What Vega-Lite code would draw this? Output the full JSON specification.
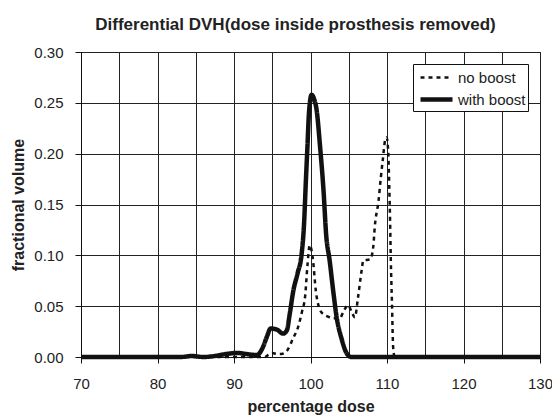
{
  "$schema": "https://vega.github.io/schema/vega-lite/v6.json",
  "width": 459,
  "height": 305,
  "autosize": {"type": "none"},
  "padding": {"left": 81, "top": 52, "right": 12, "bottom": 60},
  "background": "white",
  "config": {
    "font": "Liberation Sans",
    "view": {"stroke": "#111", "strokeWidth": 1},
    "axis": {
      "domainColor": "#111",
      "tickColor": "#111",
      "gridColor": "#222",
      "gridWidth": 1,
      "labelColor": "#222",
      "labelFont": "Liberation Sans",
      "labelFontSize": 15,
      "titleFont": "Liberation Sans",
      "titleFontSize": 16,
      "titleFontWeight": "bold",
      "titleColor": "#222",
      "tickSize": 6
    }
  },
  "title": {
    "text": "Differential DVH(dose inside prosthesis removed)",
    "fontSize": 17,
    "fontWeight": "bold",
    "font": "Liberation Sans",
    "color": "#222",
    "dx": -15,
    "dy": 20,
    "offset": 14,
    "baseline": "bottom"
  },
  "data": {
    "values": [
      {"series": "no boost", "dose": 70, "volume": 0},
      {"series": "no boost", "dose": 80, "volume": 0},
      {"series": "no boost", "dose": 90, "volume": 0},
      {"series": "no boost", "dose": 94, "volume": 0},
      {"series": "no boost", "dose": 94.5, "volume": 0.002},
      {"series": "no boost", "dose": 95, "volume": 0.004},
      {"series": "no boost", "dose": 95.6, "volume": 0.003},
      {"series": "no boost", "dose": 96.2, "volume": 0.003},
      {"series": "no boost", "dose": 97, "volume": 0.007},
      {"series": "no boost", "dose": 97.7, "volume": 0.018},
      {"series": "no boost", "dose": 98.4, "volume": 0.03},
      {"series": "no boost", "dose": 98.9, "volume": 0.045},
      {"series": "no boost", "dose": 99.3, "volume": 0.06},
      {"series": "no boost", "dose": 99.6, "volume": 0.09},
      {"series": "no boost", "dose": 99.9, "volume": 0.11},
      {"series": "no boost", "dose": 100.3, "volume": 0.097},
      {"series": "no boost", "dose": 100.7, "volume": 0.065},
      {"series": "no boost", "dose": 101.2, "volume": 0.047},
      {"series": "no boost", "dose": 101.7, "volume": 0.042},
      {"series": "no boost", "dose": 102.2, "volume": 0.04},
      {"series": "no boost", "dose": 103, "volume": 0.038},
      {"series": "no boost", "dose": 103.8, "volume": 0.038},
      {"series": "no boost", "dose": 104.4, "volume": 0.046},
      {"series": "no boost", "dose": 104.9, "volume": 0.051},
      {"series": "no boost", "dose": 105.4, "volume": 0.044},
      {"series": "no boost", "dose": 105.8, "volume": 0.039},
      {"series": "no boost", "dose": 106.2, "volume": 0.058},
      {"series": "no boost", "dose": 106.7, "volume": 0.086},
      {"series": "no boost", "dose": 106.9, "volume": 0.095},
      {"series": "no boost", "dose": 107.8, "volume": 0.096},
      {"series": "no boost", "dose": 108.2, "volume": 0.108},
      {"series": "no boost", "dose": 108.4, "volume": 0.128},
      {"series": "no boost", "dose": 108.9, "volume": 0.154},
      {"series": "no boost", "dose": 109.2, "volume": 0.177},
      {"series": "no boost", "dose": 109.45, "volume": 0.194},
      {"series": "no boost", "dose": 109.75, "volume": 0.213},
      {"series": "no boost", "dose": 109.95, "volume": 0.216},
      {"series": "no boost", "dose": 110.17, "volume": 0.2},
      {"series": "no boost", "dose": 110.3, "volume": 0.167},
      {"series": "no boost", "dose": 110.4, "volume": 0.135},
      {"series": "no boost", "dose": 110.5, "volume": 0.095},
      {"series": "no boost", "dose": 110.65, "volume": 0.053},
      {"series": "no boost", "dose": 110.8, "volume": 0.01},
      {"series": "no boost", "dose": 111, "volume": 0},
      {"series": "no boost", "dose": 120, "volume": 0},
      {"series": "no boost", "dose": 130, "volume": 0},
      {"series": "with boost", "dose": 70, "volume": 0},
      {"series": "with boost", "dose": 80, "volume": 0},
      {"series": "with boost", "dose": 83, "volume": 0},
      {"series": "with boost", "dose": 84.5, "volume": 0.001},
      {"series": "with boost", "dose": 86, "volume": 0},
      {"series": "with boost", "dose": 87.5, "volume": 0.001},
      {"series": "with boost", "dose": 89, "volume": 0.003},
      {"series": "with boost", "dose": 90.5, "volume": 0.004},
      {"series": "with boost", "dose": 91.5, "volume": 0.003},
      {"series": "with boost", "dose": 93, "volume": 0.002},
      {"series": "with boost", "dose": 93.8, "volume": 0.01},
      {"series": "with boost", "dose": 94.3, "volume": 0.02},
      {"series": "with boost", "dose": 94.8, "volume": 0.028},
      {"series": "with boost", "dose": 95.6, "volume": 0.027},
      {"series": "with boost", "dose": 96.4, "volume": 0.023},
      {"series": "with boost", "dose": 96.9, "volume": 0.026},
      {"series": "with boost", "dose": 97.3, "volume": 0.043},
      {"series": "with boost", "dose": 97.75, "volume": 0.065},
      {"series": "with boost", "dose": 98.3, "volume": 0.082},
      {"series": "with boost", "dose": 98.85, "volume": 0.102},
      {"series": "with boost", "dose": 99.15, "volume": 0.13},
      {"series": "with boost", "dose": 99.4, "volume": 0.174},
      {"series": "with boost", "dose": 99.6, "volume": 0.207},
      {"series": "with boost", "dose": 99.8, "volume": 0.24},
      {"series": "with boost", "dose": 100.15, "volume": 0.258},
      {"series": "with boost", "dose": 100.5, "volume": 0.253},
      {"series": "with boost", "dose": 100.8, "volume": 0.243},
      {"series": "with boost", "dose": 101.25, "volume": 0.207},
      {"series": "with boost", "dose": 101.7, "volume": 0.164},
      {"series": "with boost", "dose": 102.05, "volume": 0.12},
      {"series": "with boost", "dose": 102.5, "volume": 0.095},
      {"series": "with boost", "dose": 103, "volume": 0.063},
      {"series": "with boost", "dose": 103.4, "volume": 0.04},
      {"series": "with boost", "dose": 104.1, "volume": 0.017},
      {"series": "with boost", "dose": 104.7, "volume": 0.004},
      {"series": "with boost", "dose": 105.3, "volume": 0},
      {"series": "with boost", "dose": 110, "volume": 0},
      {"series": "with boost", "dose": 120, "volume": 0},
      {"series": "with boost", "dose": 130, "volume": 0}
    ]
  },
  "mark": {"type": "line", "interpolate": "monotone", "color": "#111", "strokeCap": "butt", "clip": false},
  "encoding": {
    "x": {
      "field": "dose",
      "type": "quantitative",
      "scale": {"domain": [70, 130], "nice": false, "zero": false},
      "axis": {
        "title": "percentage dose",
        "values": [70, 75, 80, 85, 90, 95, 100, 105, 110, 115, 120, 125, 130],
        "labelExpr": "datum.value % 10 === 0 ? datum.label : ''",
        "tickOpacity": {"condition": {"test": "datum.value % 10 === 0", "value": 1}, "value": 0},
        "labelPadding": 13,
        "titlePadding": 7,
        "labelFlush": false
      }
    },
    "y": {
      "field": "volume",
      "type": "quantitative",
      "scale": {"domain": [0, 0.3], "nice": false},
      "axis": {
        "title": "fractional volume",
        "values": [0, 0.05, 0.1, 0.15, 0.2, 0.25, 0.3],
        "format": ".2f",
        "labelPadding": 12,
        "titlePadding": 7
      }
    },
    "strokeDash": {
      "field": "series",
      "type": "nominal",
      "scale": {"domain": ["no boost", "with boost"], "range": [[4, 4], [1, 0]]},
      "legend": {
        "title": null,
        "orient": "top-right",
        "offset": 12,
        "strokeColor": "#111",
        "fillColor": "white",
        "padding": 2,
        "labelFontSize": 15,
        "labelColor": "#222",
        "labelFont": "Liberation Sans",
        "symbolType": "M-0.7,0H2.5",
        "symbolSize": 400,
        "symbolStrokeColor": "#111",
        "labelOffset": 18,
        "rowPadding": 1
      }
    },
    "strokeWidth": {
      "field": "series",
      "type": "nominal",
      "scale": {"domain": ["no boost", "with boost"], "range": [2.5, 4.5]},
      "legend": {
        "title": null,
        "orient": "top-right",
        "offset": 12,
        "strokeColor": "#111",
        "fillColor": "white",
        "padding": 2,
        "labelFontSize": 15,
        "labelColor": "#222",
        "labelFont": "Liberation Sans",
        "symbolType": "M-0.7,0H2.5",
        "symbolSize": 400,
        "symbolStrokeColor": "#111",
        "labelOffset": 18,
        "rowPadding": 1
      }
    }
  }
}
